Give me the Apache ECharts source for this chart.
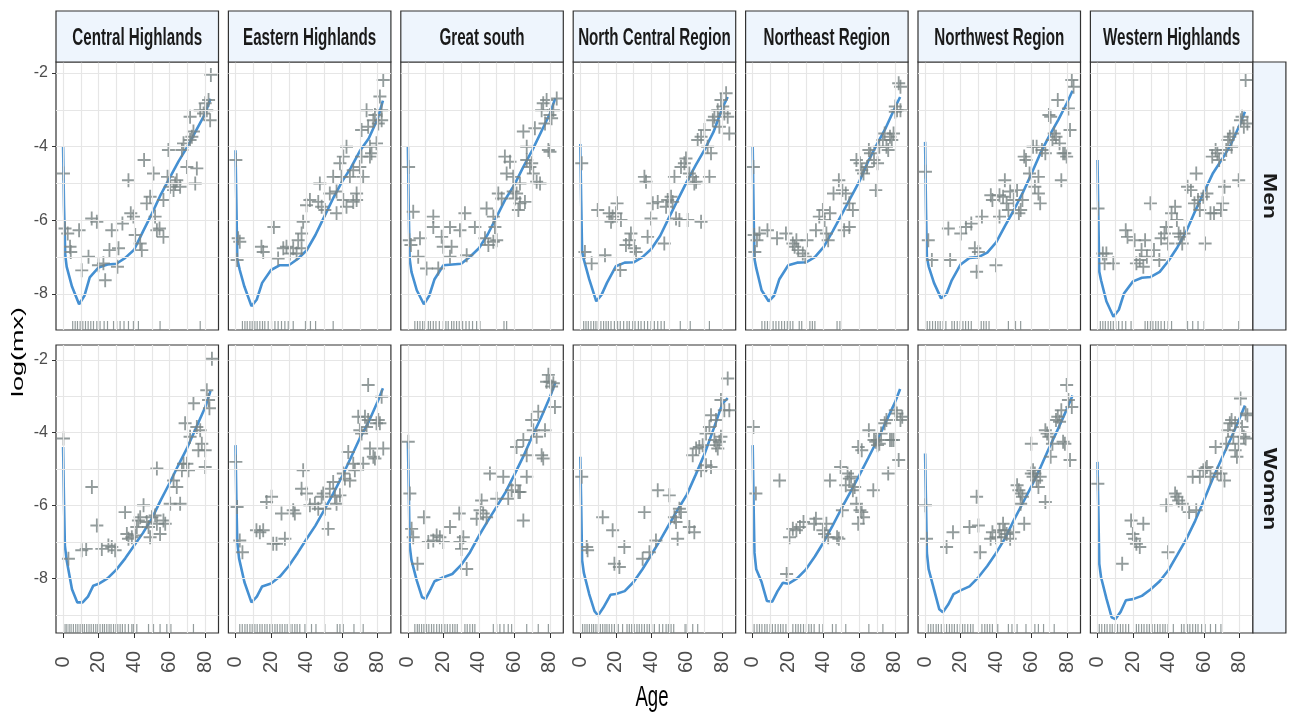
<!DOCTYPE html>
<html><head><meta charset="utf-8">
<script src="https://cdn.jsdelivr.net/npm/echarts@6/dist/echarts.min.js"></script>
<style>html,body{margin:0;padding:0;background:#fff}#c{width:1290px;height:715px}</style>
</head><body><div id="c"></div>
<script>
// ---------- data ----------
const regions = ['Central Highlands','Eastern Highlands','Great south','North Central Region','Northeast Region','Northwest Region','Western Highlands'];
const sexes = ['Men','Women'];
const xTicks = [0,20,40,60,80];
const xMinor = [10,30,50,70];
const yTicks = [-8,-6,-4,-2];
const yMinor = [-9,-7,-5,-3];
const xLimits = [-4, 87.5];
const yLimitsMen = [-8.98, -1.70];
const yLimitsWomen = [-9.5, -1.59];

// fitted curves: [age, log(mx)]
const lineMen = [
 [[0,-4.0],[0.5,-5.6],[1.2,-6.95],[2,-7.26],[5,-7.8],[9,-8.28],[12,-8.05],[15,-7.55],[20,-7.28],[25,-7.2],[30,-7.18],[35,-7.02],[40,-6.8],[45,-6.3],[50,-5.82],[55,-5.3],[60,-4.85],[65,-4.4],[70,-4.0],[75,-3.55],[80,-3.1],[83,-2.7]],
 [[0,-4.1],[0.5,-5.6],[1,-7.05],[2.4,-7.35],[5,-7.8],[9,-8.33],[12,-8.15],[15,-7.7],[20,-7.35],[25,-7.22],[30,-7.22],[35,-7.05],[40,-6.82],[45,-6.4],[50,-5.9],[55,-5.4],[60,-4.95],[65,-4.57],[70,-4.12],[75,-3.78],[80,-3.25],[83,-2.75]],
 [[0,-4.0],[0.5,-5.8],[1,-7.05],[2,-7.4],[5,-7.9],[9,-8.28],[12,-8.05],[15,-7.6],[20,-7.22],[25,-7.2],[30,-7.18],[35,-6.99],[40,-6.76],[45,-6.38],[50,-5.9],[55,-5.42],[60,-5.03],[65,-4.55],[70,-4.1],[75,-3.6],[80,-3.1],[83,-2.68]],
 [[0,-3.93],[0.5,-5.5],[1,-6.85],[2,-7.07],[5,-7.6],[9,-8.2],[12,-8.02],[15,-7.7],[20,-7.25],[25,-7.15],[30,-7.14],[35,-7.0],[40,-6.78],[45,-6.42],[50,-5.92],[55,-5.43],[60,-4.95],[65,-4.5],[70,-4.08],[75,-3.6],[80,-2.95],[83,-2.65]],
 [[0,-4.0],[0.5,-5.8],[1,-7.05],[2,-7.3],[5,-7.9],[9,-8.2],[12,-8.05],[15,-7.6],[20,-7.22],[25,-7.15],[30,-7.14],[35,-7.0],[40,-6.72],[45,-6.3],[50,-5.85],[55,-5.4],[60,-4.95],[65,-4.4],[70,-3.93],[75,-3.48],[80,-2.95],[83,-2.65]],
 [[0,-3.87],[0.5,-5.7],[1,-7.0],[2,-7.25],[5,-7.7],[9,-8.12],[12,-8.0],[15,-7.63],[20,-7.2],[25,-7.02],[30,-7.0],[35,-6.88],[40,-6.6],[45,-6.15],[50,-5.72],[55,-5.25],[60,-4.72],[65,-4.17],[70,-3.7],[75,-3.27],[80,-2.8],[83,-2.48]],
 [[0,-4.36],[0.5,-6.0],[1,-7.4],[2,-7.63],[5,-8.2],[9,-8.62],[12,-8.43],[15,-7.98],[20,-7.66],[25,-7.56],[30,-7.54],[35,-7.4],[40,-7.1],[45,-6.73],[50,-6.3],[55,-5.75],[60,-5.23],[65,-4.72],[70,-4.35],[75,-3.95],[80,-3.42],[83,-3.05]]
];
const lineWomen = [
 [[0,-4.39],[0.5,-5.9],[1,-7.1],[2,-7.5],[5,-8.3],[8,-8.66],[11,-8.66],[14,-8.5],[17,-8.2],[20,-8.15],[25,-8.0],[30,-7.76],[35,-7.45],[40,-7.1],[45,-6.75],[50,-6.35],[55,-5.85],[60,-5.38],[65,-4.88],[70,-4.4],[75,-3.85],[80,-3.3],[83,-2.85]],
 [[0,-4.34],[0.5,-5.9],[1,-7.0],[2,-7.45],[5,-8.1],[9,-8.66],[12,-8.5],[15,-8.22],[20,-8.14],[25,-7.95],[30,-7.66],[35,-7.3],[40,-6.92],[45,-6.55],[50,-6.12],[55,-5.67],[60,-5.2],[65,-4.68],[70,-4.15],[75,-3.7],[80,-3.15],[83,-2.78]],
 [[0,-4.25],[0.5,-5.6],[1,-7.1],[2,-7.5],[5,-8.06],[8,-8.52],[10,-8.56],[12,-8.38],[15,-8.08],[20,-7.97],[25,-7.88],[30,-7.63],[35,-7.28],[40,-6.83],[45,-6.42],[50,-6.03],[55,-5.63],[60,-5.15],[65,-4.65],[70,-4.1],[75,-3.58],[80,-3.02],[83,-2.62]],
 [[0,-4.66],[0.5,-6.0],[1,-7.5],[2,-7.85],[5,-8.43],[8,-8.9],[10,-9.02],[13,-8.8],[17,-8.45],[20,-8.43],[25,-8.35],[30,-8.1],[35,-7.75],[40,-7.35],[45,-6.95],[50,-6.52],[55,-6.1],[60,-5.7],[65,-5.15],[70,-4.58],[75,-3.9],[80,-3.2],[83,-3.05]],
 [[0,-4.34],[0.5,-6.0],[1,-7.3],[2,-7.75],[5,-8.1],[8,-8.62],[11,-8.64],[14,-8.35],[17,-8.12],[20,-8.15],[25,-8.0],[30,-7.75],[35,-7.4],[40,-7.0],[45,-6.55],[50,-6.08],[55,-5.63],[60,-5.17],[65,-4.7],[70,-4.22],[75,-3.7],[80,-3.18],[83,-2.8]],
 [[0,-4.57],[0.5,-5.95],[1,-7.3],[2,-7.75],[5,-8.3],[8,-8.85],[10,-8.93],[13,-8.72],[16,-8.43],[20,-8.33],[25,-8.22],[30,-7.97],[35,-7.66],[40,-7.3],[45,-6.9],[50,-6.4],[55,-5.93],[60,-5.46],[65,-4.95],[70,-4.4],[75,-3.88],[80,-3.33],[83,-2.98]],
 [[0,-4.8],[0.5,-6.2],[1,-7.6],[2,-7.97],[5,-8.55],[8,-9.07],[10,-9.12],[13,-8.92],[16,-8.6],[20,-8.57],[25,-8.48],[30,-8.3],[35,-8.08],[40,-7.77],[45,-7.35],[50,-6.92],[55,-6.42],[60,-5.85],[65,-5.25],[70,-4.7],[75,-4.17],[80,-3.6],[83,-3.25]]
];

// observed rates: [age, log(mx)]
const ptsMen = [
 [[0.2,-4.73],[1.1,-6.22],[2.6,-6.36],[3.9,-6.72],[4.3,-6.86],[9.0,-6.27],[10.5,-7.36],[14.3,-6.99],[16.1,-5.95],[19.0,-6.04],[19.9,-7.22],[22.7,-7.17],[23.7,-7.63],[27.4,-6.27],[26.1,-6.81],[31.2,-6.76],[30.6,-7.26],[33.4,-6.09],[36.8,-4.91],[38.1,-5.81],[39.6,-5.90],[40.6,-6.40],[43.4,-6.63],[44.3,-6.81],[45.6,-4.36],[47.1,-5.54],[49.0,-5.36],[50.9,-4.73],[51.8,-5.90],[52.8,-6.27],[54.3,-6.22],[56.5,-6.45],[56.5,-5.45],[58.8,-4.82],[59.3,-4.09],[60.3,-5.09],[62.2,-5.18],[63.1,-5.00],[64.0,-4.91],[65.9,-5.09],[66.9,-4.09],[67.8,-3.91],[69.7,-4.55],[71.5,-3.82],[72.5,-3.73],[73.4,-3.59],[74.4,-5.00],[75.3,-4.59],[77.2,-3.01],[71.5,-3.19],[79.1,-3.10],[80.0,-2.82],[81.9,-2.73],[82.8,-3.28],[83.2,-2.05],[80.9,-3.01]],
 [[0.2,-4.36],[1.5,-6.49],[2.4,-6.58],[0.9,-7.08],[14.6,-6.72],[15.6,-6.86],[21.6,-6.18],[24.0,-7.04],[26.9,-6.76],[28.7,-6.72],[30.6,-6.90],[32.5,-6.76],[34.4,-6.90],[35.3,-6.54],[37.2,-6.36],[38.1,-6.04],[37.2,-6.76],[40.0,-5.59],[41.9,-5.45],[47.5,-5.00],[46.6,-5.50],[48.5,-5.63],[50.3,-5.72],[53.1,-5.27],[55.0,-4.82],[56.9,-5.22],[58.8,-4.45],[60.7,-4.27],[62.5,-4.00],[59.7,-4.82],[60.7,-5.45],[64.4,-4.82],[66.3,-4.64],[66.3,-5.50],[68.2,-5.27],[70.0,-4.55],[71.0,-4.27],[71.0,-3.55],[71.9,-4.82],[73.8,-3.01],[74.7,-3.46],[75.7,-4.00],[75.7,-4.27],[76.6,-4.18],[77.6,-3.28],[78.5,-3.14],[79.4,-3.91],[80.4,-3.37],[81.3,-2.64],[82.3,-3.01],[83.2,-2.19],[82.3,-3.28],[56.9,-5.81],[62.5,-5.63],[68.2,-5.45]],
 [[0.4,-4.55],[3.0,-5.77],[0.8,-6.54],[1.7,-6.67],[6.8,-6.49],[5.8,-6.99],[10.5,-7.31],[17.1,-7.31],[14.3,-5.90],[14.3,-6.18],[19.0,-6.45],[19.9,-6.72],[23.7,-6.18],[24.6,-6.72],[23.7,-6.99],[29.3,-6.27],[32.1,-5.81],[33.1,-6.95],[37.7,-6.18],[43.4,-6.49],[44.3,-5.68],[48.1,-5.90],[49.0,-6.18],[45.3,-6.67],[48.1,-6.58],[50.0,-6.54],[50.9,-5.27],[52.8,-5.41],[54.6,-4.27],[55.6,-4.73],[57.5,-4.41],[59.3,-5.22],[60.3,-5.41],[59.3,-4.82],[61.2,-5.27],[62.2,-5.72],[63.1,-5.54],[65.9,-5.50],[65.0,-3.59],[66.9,-4.00],[69.7,-4.45],[70.6,-4.73],[71.5,-3.50],[72.5,-4.95],[74.4,-5.00],[66.9,-4.36],[68.7,-4.55],[75.3,-3.01],[76.2,-2.82],[77.2,-3.37],[78.1,-2.73],[79.1,-4.09],[80.0,-3.14],[80.9,-3.23],[81.9,-3.01],[83.8,-2.69],[80.0,-4.14],[63.1,-5.00]],
 [[0.8,-4.45],[2.6,-6.86],[6.4,-7.17],[9.8,-5.72],[13.9,-6.95],[16.3,-5.81],[17.3,-6.04],[18.2,-5.90],[20.7,-5.54],[20.1,-5.81],[22.9,-5.99],[25.7,-6.67],[27.6,-6.54],[28.5,-6.36],[30.4,-6.76],[31.4,-6.86],[22.5,-7.35],[36.1,-4.82],[37.0,-4.95],[37.9,-6.45],[39.8,-5.95],[40.8,-5.54],[43.6,-5.50],[47.3,-6.63],[48.3,-5.63],[49.2,-5.45],[51.1,-5.36],[52.0,-5.50],[53.0,-4.82],[53.9,-5.95],[55.8,-5.99],[56.7,-4.55],[58.6,-4.45],[59.5,-4.32],[60.5,-5.99],[61.4,-4.73],[63.3,-4.82],[64.2,-5.00],[65.2,-4.95],[68.0,-6.04],[72.7,-4.82],[66.1,-3.82],[68.0,-3.73],[69.9,-3.55],[71.7,-4.00],[73.6,-4.18],[74.6,-3.28],[75.5,-3.19],[77.4,-3.01],[79.2,-2.73],[80.2,-2.91],[81.1,-3.10],[82.1,-2.55],[83.0,-3.19],[83.9,-3.64],[78.3,-3.46]],
 [[0.4,-4.55],[0.8,-6.40],[1.2,-6.86],[2.4,-6.54],[3.8,-6.36],[8.3,-6.27],[13.7,-6.49],[18.7,-6.36],[22.6,-6.63],[23.6,-6.72],[24.6,-6.54],[25.6,-6.81],[28.2,-6.90],[29.6,-6.99],[30.6,-6.54],[35.6,-6.27],[37.5,-5.90],[39.5,-5.72],[40.5,-5.99],[41.5,-6.36],[42.5,-6.54],[43.5,-5.81],[45.5,-5.27],[48.5,-4.91],[50.5,-5.18],[52.4,-5.27],[54.4,-6.18],[51.5,-6.27],[56.4,-5.72],[58.4,-4.36],[60.4,-4.45],[61.4,-4.64],[62.4,-4.73],[64.4,-4.55],[65.4,-4.09],[66.3,-4.18],[69.3,-5.18],[68.3,-4.36],[70.3,-4.45],[71.3,-4.00],[73.3,-3.82],[74.3,-3.64],[75.3,-4.00],[76.3,-4.09],[77.3,-3.73],[78.3,-3.82],[79.3,-3.64],[80.3,-2.91],[81.3,-3.01],[82.2,-2.28],[83.2,-3.01],[83.2,-2.37],[54.4,-5.54],[80.3,-3.05]],
 [[0.2,-4.68],[1.8,-6.54],[3.8,-7.08],[13.1,-6.22],[14.1,-7.08],[20.1,-6.36],[23.0,-6.18],[26.0,-6.09],[28.0,-6.76],[30.0,-6.86],[29.0,-7.40],[32.0,-5.90],[37.0,-5.32],[37.9,-5.45],[39.9,-7.22],[41.9,-5.90],[41.9,-5.32],[43.9,-5.36],[44.9,-4.91],[45.9,-5.54],[46.9,-5.72],[47.9,-5.22],[49.9,-5.45],[51.8,-5.18],[52.8,-5.81],[53.8,-5.72],[54.8,-5.45],[55.8,-4.27],[56.8,-4.36],[58.8,-4.73],[60.8,-4.00],[61.8,-5.09],[62.8,-4.00],[63.8,-5.27],[64.8,-5.54],[65.8,-4.09],[67.7,-4.18],[69.7,-3.14],[70.7,-3.19],[71.7,-3.82],[72.7,-3.64],[73.7,-3.73],[74.7,-2.73],[75.7,-3.91],[76.7,-4.91],[77.7,-4.18],[78.7,-4.18],[79.7,-4.27],[80.7,-2.96],[81.6,-3.55],[82.6,-2.19],[83.6,-2.37],[63.8,-4.82]],
 [[0.3,-5.68],[3.0,-6.90],[4.0,-7.17],[5.0,-6.90],[8.9,-7.17],[15.9,-6.27],[16.9,-6.45],[20.9,-6.54],[21.9,-7.17],[23.8,-7.08],[24.8,-6.81],[25.8,-7.26],[26.8,-6.54],[27.8,-6.99],[29.8,-5.54],[31.8,-6.81],[34.8,-7.08],[35.8,-6.49],[37.7,-6.36],[38.7,-6.18],[39.7,-6.63],[41.7,-5.81],[43.7,-5.63],[44.7,-5.99],[45.7,-6.36],[46.7,-6.45],[47.7,-6.63],[48.7,-6.36],[50.7,-5.09],[52.6,-5.18],[54.6,-5.54],[55.6,-4.73],[56.6,-5.45],[57.6,-5.72],[59.6,-5.36],[61.6,-5.27],[60.6,-6.63],[63.6,-5.81],[64.6,-4.27],[66.5,-4.09],[67.5,-4.18],[68.5,-4.36],[69.5,-5.72],[70.5,-5.54],[71.5,-5.09],[72.5,-4.09],[73.5,-3.82],[74.5,-3.73],[75.5,-4.00],[76.5,-3.64],[79.5,-4.91],[80.5,-3.28],[81.4,-3.19],[82.4,-3.46],[83.4,-2.19],[84.4,-3.37],[65.6,-5.81]]
];
const ptsWomen = [
 [[0.2,-4.16],[3.0,-7.46],[10.5,-7.23],[13.0,-7.19],[16.2,-5.49],[19.0,-6.55],[21.8,-7.19],[25.5,-7.10],[27.4,-7.14],[29.3,-7.23],[34.9,-6.18],[35.9,-6.78],[36.8,-6.91],[38.7,-6.87],[40.6,-6.82],[42.4,-6.41],[43.4,-6.32],[45.3,-5.99],[47.1,-6.45],[48.1,-6.59],[49.0,-6.87],[50.0,-6.32],[51.8,-6.27],[52.8,-6.50],[54.6,-6.78],[56.5,-6.41],[57.5,-6.50],[60.3,-5.95],[62.2,-5.31],[64.0,-5.49],[65.9,-5.95],[66.9,-5.03],[67.8,-4.85],[68.7,-3.74],[69.7,-4.85],[70.6,-5.03],[71.5,-4.11],[73.4,-3.19],[75.3,-3.84],[76.2,-4.48],[77.2,-3.93],[78.1,-4.30],[80.0,-4.48],[80.9,-2.83],[81.9,-3.10],[82.4,-3.33],[83.8,-1.97],[80.0,-4.94],[52.8,-4.98],[41.5,-6.59]],
 [[0.2,-4.80],[0.9,-6.04],[2.4,-6.96],[3.9,-7.28],[11.8,-6.68],[13.7,-6.73],[15.6,-6.68],[17.5,-5.90],[20.3,-5.76],[21.2,-7.05],[23.1,-7.05],[25.9,-6.22],[27.8,-6.91],[32.5,-6.13],[33.4,-6.22],[38.1,-5.03],[37.2,-5.54],[40.0,-5.67],[41.9,-5.99],[44.7,-5.95],[46.6,-6.09],[48.5,-5.76],[49.4,-5.67],[50.3,-6.09],[52.2,-6.64],[53.1,-5.54],[55.0,-5.35],[56.0,-5.76],[56.9,-5.95],[58.8,-5.72],[60.7,-5.12],[61.6,-5.26],[63.5,-4.53],[64.4,-5.31],[66.3,-4.85],[67.2,-5.03],[69.1,-3.56],[70.0,-3.93],[71.0,-4.02],[71.9,-4.85],[72.9,-3.56],[73.8,-3.84],[74.7,-3.65],[75.7,-4.43],[77.6,-4.66],[78.5,-4.71],[79.4,-3.74],[80.4,-3.65],[81.3,-3.74],[82.3,-3.01],[83.2,-4.43],[74.7,-2.69]],
 [[0.2,-4.25],[1.1,-5.67],[2.1,-6.64],[3.0,-6.87],[5.4,-7.60],[9.0,-6.32],[11.5,-7.00],[14.3,-6.96],[16.2,-6.82],[18.0,-6.87],[19.9,-7.00],[23.7,-6.59],[28.9,-6.22],[29.3,-7.00],[30.2,-7.19],[33.1,-7.74],[31.2,-6.87],[38.7,-6.36],[40.6,-6.13],[41.5,-5.86],[42.4,-6.22],[44.3,-6.32],[46.2,-5.12],[50.0,-5.81],[53.7,-5.21],[56.5,-5.81],[58.4,-5.58],[60.3,-5.44],[62.2,-5.63],[61.2,-4.39],[63.1,-5.63],[65.0,-6.41],[66.9,-5.21],[65.0,-4.20],[66.9,-4.62],[69.7,-3.65],[70.6,-3.93],[72.5,-4.11],[73.4,-3.42],[75.3,-4.62],[76.2,-4.71],[77.2,-3.93],[79.1,-2.41],[80.0,-2.60],[80.9,-2.73],[81.9,-2.64],[82.8,-3.29],[78.1,-2.60]],
 [[0.8,-5.21],[3.6,-7.14],[4.1,-7.23],[12.6,-6.32],[18.2,-6.68],[19.2,-7.60],[22.0,-7.69],[24.8,-7.14],[36.1,-6.18],[35.1,-7.46],[38.9,-7.28],[42.6,-6.96],[43.6,-5.58],[50.1,-5.72],[53.0,-6.32],[53.9,-6.45],[55.8,-6.09],[56.7,-6.18],[54.8,-6.91],[61.4,-6.59],[64.2,-6.73],[63.3,-4.62],[65.2,-4.43],[67.0,-4.39],[68.9,-4.34],[70.8,-4.02],[72.7,-3.84],[73.6,-3.52],[75.5,-4.20],[76.4,-4.34],[77.4,-4.43],[78.3,-4.25],[79.2,-4.11],[79.2,-3.10],[81.1,-3.38],[83.0,-2.51],[83.9,-3.38],[70.8,-4.89],[68.0,-5.03],[73.6,-4.94],[76.4,-3.65]],
 [[0.4,-3.84],[1.8,-5.67],[15.1,-5.31],[19.1,-7.88],[20.7,-6.87],[22.6,-6.64],[24.6,-6.68],[26.6,-6.59],[28.6,-6.45],[34.6,-6.50],[35.6,-6.36],[39.5,-6.68],[40.5,-6.78],[41.5,-6.50],[42.5,-6.87],[43.5,-5.31],[47.5,-6.87],[48.5,-6.91],[49.5,-4.94],[50.5,-6.13],[52.4,-5.44],[53.4,-5.12],[54.4,-5.26],[55.4,-5.21],[56.4,-5.58],[57.4,-5.49],[58.4,-5.95],[59.4,-6.50],[60.4,-6.13],[61.4,-6.18],[62.4,-6.32],[59.4,-4.39],[61.4,-4.48],[65.4,-3.93],[68.3,-4.20],[69.3,-4.25],[70.3,-4.20],[71.3,-4.30],[72.3,-4.02],[74.3,-3.74],[75.3,-3.65],[76.3,-5.12],[77.3,-4.20],[78.3,-4.20],[79.3,-4.20],[80.3,-3.38],[81.2,-3.47],[82.2,-4.75],[83.2,-3.65],[84.2,-3.56],[67.9,-5.58],[70.3,-4.34]],
 [[0.2,-5.99],[0.8,-6.91],[12.1,-7.14],[15.7,-6.73],[25.0,-6.59],[29.0,-5.76],[30.0,-6.55],[31.0,-7.28],[36.9,-6.91],[37.9,-6.73],[39.9,-6.87],[41.9,-6.68],[42.9,-6.87],[43.9,-6.50],[44.9,-6.68],[45.9,-6.78],[47.9,-6.91],[49.9,-6.73],[51.8,-5.44],[52.8,-5.58],[53.8,-5.67],[54.8,-5.76],[55.8,-6.50],[59.8,-5.12],[59.8,-4.30],[60.8,-5.21],[61.8,-5.12],[62.8,-5.31],[63.8,-5.49],[64.8,-5.21],[67.7,-5.90],[67.7,-3.93],[68.7,-4.02],[69.7,-4.11],[70.7,-4.66],[71.7,-4.30],[73.7,-3.65],[74.7,-3.56],[75.7,-3.70],[76.7,-3.38],[77.7,-4.25],[78.7,-4.30],[79.7,-2.69],[80.7,-3.10],[81.6,-4.75],[82.6,-3.29],[60.8,-5.03],[53.8,-5.95]],
 [[0.2,-5.40],[13.9,-7.60],[18.9,-6.41],[19.9,-6.78],[20.9,-6.91],[21.9,-7.05],[23.8,-7.14],[25.8,-6.50],[38.7,-5.99],[39.7,-7.28],[43.7,-5.67],[44.7,-5.76],[45.7,-5.86],[47.7,-5.95],[51.6,-6.18],[53.6,-5.21],[55.6,-6.13],[57.6,-5.21],[59.6,-5.03],[60.6,-4.98],[61.6,-4.94],[63.6,-5.21],[66.5,-4.39],[67.5,-5.12],[69.5,-5.12],[71.5,-5.31],[72.5,-4.30],[73.5,-3.93],[74.5,-3.74],[75.5,-3.65],[76.5,-4.11],[77.5,-3.74],[78.5,-4.66],[79.5,-4.30],[80.5,-3.06],[81.4,-3.84],[82.4,-4.11],[83.4,-3.47],[84.4,-3.52],[83.4,-4.16],[77.5,-4.48]]
];

// rug: ages shown as ticks along the bottom of each panel
const rugMen = [
 [5.4,6.8,8.1,9.6,11.1,12.6,14.1,15.6,17.1,19.0,20.8,23.1,25.0,28.4,30.2,32.1,34.3,36.8,39.6,42.4,54.6,77.2],
 [3.9,5.3,6.6,8.1,9.4,10.9,12.2,13.7,15.2,16.5,18.4,20.3,22.2,24.0,25.9,27.8,29.7,32.5,39.4,42.2,45.1,55.0],
 [3.9,5.4,6.8,8.3,9.6,11.5,12.7,14.3,15.8,17.7,19.9,21.4,22.7,24.6,25.9,27.4,28.9,30.8,32.7,34.5,36.4,38.7,40.6,54.1,55.6],
 [1.9,3.2,4.5,6.0,7.5,8.8,10.1,11.6,13.1,14.5,15.8,17.3,19.2,21.0,22.5,24.4,26.3,27.6,29.5,30.8,32.7,34.2,36.1,37.9,39.8,41.7,43.6,45.5,47.3,56.3,61.9,72.7],
 [5.2,6.8,8.3,9.9,11.5,13.1,14.7,16.3,17.9,19.5,21.1,22.6,26.2,27.6,32.2,33.6,35.0,47.5,49.1],
 [1.2,2.6,4.2,5.8,7.2,8.5,10.1,11.7,15.1,16.5,18.1,19.7,21.3,22.8,24.4,26.0,31.6,33.0,34.4,36.0,46.9,50.9,53.8],
 [1.6,3.0,4.4,6.0,7.4,8.9,10.3,11.9,13.9,15.9,18.9,26.8,28.2,29.8,31.2,32.8,34.2,35.8,37.7,39.7,41.7,50.7,53.6,56.6,60.0,79.5]
];
const rugWomen = [
 [1.1,2.1,3.4,4.5,5.8,7.1,8.3,9.6,10.9,12.0,13.3,14.6,15.8,17.1,18.4,19.5,20.8,22.2,23.3,24.6,25.9,27.0,28.4,29.7,30.8,32.1,33.4,34.9,36.8,38.7,39.6,41.5,48.1,50.9,54.6,58.4,60.7,73.4],
 [2.4,3.8,5.3,6.6,8.1,9.4,10.9,12.2,13.7,15.0,16.5,17.8,19.3,20.7,22.2,23.5,25.0,26.3,27.8,29.1,30.6,31.9,33.4,34.7,36.2,39.1,42.8,45.3,50.3,57.3,58.8,60.7,66.7,71.9],
 [3.9,5.3,6.4,7.7,9.0,10.5,11.8,13.3,14.6,16.2,17.7,19.0,20.8,22.2,23.7,25.2,26.5,27.8,32.1,33.4,34.9,36.4,37.7,48.1,50.0,51.8,54.1,56.5,58.4,66.9,73.4,79.1],
 [1.3,2.6,3.8,5.1,6.4,7.5,8.8,10.1,11.3,12.6,13.9,15.0,16.3,17.7,19.2,21.4,23.8,26.3,27.6,28.9,30.4,31.9,33.2,34.6,36.1,37.6,38.9,40.2,41.7,44.5,46.4,48.3,49.6,51.1,52.6,59.0,60.1,63.3,66.1],
 [0.8,2.4,3.8,5.2,6.8,8.1,9.7,11.1,12.7,14.3,15.7,17.1,18.7,22.6,24.2,25.6,27.0,28.6,30.2,31.6,33.0,34.6,37.5,39.5,44.9,46.9,52.4,65.4,73.3],
 [1.8,3.2,4.6,6.2,7.5,9.1,10.5,12.1,13.7,15.1,16.5,18.1,19.7,21.1,22.4,24.0,25.6,27.0,32.0,33.6,35.0,36.4,37.9,40.9,46.9,48.9,51.8,56.8,61.8,63.8,66.7,72.7],
 [1.0,2.4,4.0,5.4,7.0,8.3,9.9,11.3,12.9,14.3,15.9,17.5,21.9,23.2,24.8,26.2,27.8,29.2,30.8,32.2,33.8,35.2,36.8,38.1,39.7,42.7,47.3,48.7,50.7,52.0,53.6,55.2,56.6,58.6,60.6,63.6,66.5,69.5]
];

// ---------- chart ----------
const chart = echarts.init(document.getElementById('c'), null, {renderer: 'canvas'});
const L0 = 56, DX = 172.4, PW = 162.5;
const rowTop = [62, 345], rowH = [268, 288];
const yLim = [yLimitsMen, yLimitsWomen];
const lines = [lineMen, lineWomen], pts = [ptsMen, ptsWomen], rugs = [rugMen, rugWomen];
const plus = 'path://M8.6,0H11.4V8.6H20V11.4H11.4V20H8.6V11.4H0V8.6H8.6Z';
const gridCol = '#e6e6e6', ptCol = '#788383', lineCol = '#4590d2', frame = '#333333';

const grid = [], xAxis = [], yAxis = [], series = [], graphic = [];
for (let r = 0; r < 2; r++) {
  for (let c = 0; c < 7; c++) {
    const i = r * 7 + c;
    const left = L0 + c * DX;
    grid.push({left: left, top: rowTop[r], width: PW, height: rowH[r], show: true,
      borderColor: frame, borderWidth: 1.2, backgroundColor: '#fff', z: 0});
    xAxis.push({type: 'value', gridIndex: i, min: xLimits[0], max: xLimits[1],
      splitLine: {show: false}, axisLine: {show: false, onZero: false},
      axisTick: {show: r === 1, customValues: xTicks, length: 5, lineStyle: {color: frame, width: 1}},
      axisLabel: {show: r === 1, customValues: xTicks, rotate: 90, align: 'center', verticalAlign: 'middle',
        margin: 29, fontSize: 20, color: '#4d4d4d', fontFamily: 'Liberation Sans'}});
    yAxis.push({type: 'value', gridIndex: i, min: yLim[r][0], max: yLim[r][1],
      splitLine: {show: false}, axisLine: {show: false, onZero: false},
      axisTick: {show: c === 0, customValues: yTicks, length: 4, lineStyle: {color: frame, width: 1}},
      axisLabel: {show: c === 0, customValues: yTicks, margin: 8, fontSize: 16, color: '#4d4d4d',
        fontFamily: 'Liberation Sans'}});
    const ylines = yTicks.concat(yMinor).filter(v => v > yLim[r][0] && v < yLim[r][1]);
    const xlines = xTicks.concat(xMinor);
    series.push({type: 'line', xAxisIndex: i, yAxisIndex: i, data: [], z: 1, silent: true,
      markLine: {silent: true, symbol: ['none', 'none'], label: {show: false}, animation: false,
        lineStyle: {color: gridCol, width: 1.2, type: 'solid'},
        emphasis: {disabled: true},
        data: ylines.map(v => ({yAxis: v})).concat(xlines.map(v => ({xAxis: v})))}});
    series.push({type: 'line', xAxisIndex: i, yAxisIndex: i, data: lines[r][c], showSymbol: false,
      symbol: 'none', lineStyle: {color: lineCol, width: 2.6}, z: 3, silent: true});
    series.push({type: 'scatter', xAxisIndex: i, yAxisIndex: i, data: pts[r][c], symbol: plus,
      symbolSize: [13, 14], itemStyle: {color: ptCol}, z: 4, silent: true, clip: true});
    series.push({type: 'scatter', xAxisIndex: i, yAxisIndex: i,
      data: rugs[r][c].map(a => [a, yLim[r][0]]), symbol: 'rect', symbolSize: [1.2, 9],
      symbolOffset: [0, -4.5], itemStyle: {color: ptCol}, z: 4, silent: true});
  }
}
// column strips
for (let c = 0; c < 7; c++) {
  const left = L0 + c * DX;
  graphic.push({type: 'rect', shape: {x: left, y: 11, width: PW, height: 51},
    style: {fill: '#EEF5FD', stroke: frame, lineWidth: 1.2}, z: 10});
  graphic.push({type: 'text', x: left + PW / 2, y: 39, scaleX: 0.66, z: 11,
    style: {text: regions[c], font: 'bold 23px "Liberation Sans"', fill: '#1a1a1a',
      textAlign: 'center', textVerticalAlign: 'middle'}});
}
// row strips
for (let r = 0; r < 2; r++) {
  const sx = L0 + 6 * DX + PW;
  graphic.push({type: 'rect', shape: {x: sx, y: rowTop[r], width: 33, height: rowH[r]},
    style: {fill: '#EEF5FD', stroke: frame, lineWidth: 1.2}, z: 10});
  graphic.push({type: 'text', x: sx + 16.5, y: rowTop[r] + rowH[r] / 2, rotation: -Math.PI / 2,
    scaleY: 0.8, z: 11,
    style: {text: sexes[r], font: 'bold 23px "Liberation Sans"', fill: '#1a1a1a',
      textAlign: 'center', textVerticalAlign: 'middle'}});
}
// axis titles
graphic.push({type: 'text', x: 652, y: 698, scaleX: 0.62, z: 11,
  style: {text: 'Age', font: '30px "Liberation Sans"', fill: '#000',
    textAlign: 'center', textVerticalAlign: 'middle'}});
graphic.push({type: 'text', x: 18, y: 352, rotation: Math.PI / 2, scaleY: 0.62, z: 11,
  style: {text: 'log(mx)', font: '27px "Liberation Sans"', fill: '#000',
    textAlign: 'center', textVerticalAlign: 'middle'}});

chart.setOption({animation: false, backgroundColor: '#fff', grid, xAxis, yAxis, series, graphic});
</script></body></html>
